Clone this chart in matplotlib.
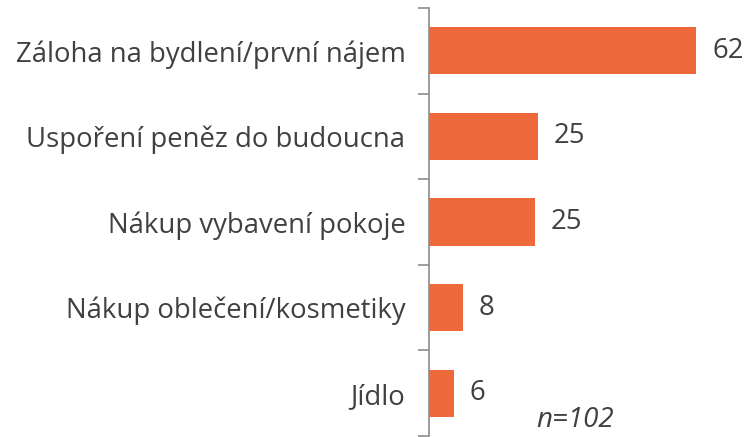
import matplotlib.pyplot as plt
from matplotlib.ticker import FixedLocator

kategorie = ['Záloha na bydlení/první nájem', 'Uspoření peněz do budoucna',
             'Nákup vybavení pokoje', 'Nákup oblečení/kosmetiky', 'Jídlo']
hodnoty = [62, 25.3, 24.6, 7.9, 5.8]
popisky = ['62', '25', '25', '8', '6']

plt.rcParams['font.family'] = ['Open Sans', 'DejaVu Sans']

fig = plt.figure(figsize=(7.46, 4.37), dpi=100)
ax = fig.add_axes([429 / 746, 1 - 436 / 437, 302 / 746, 428 / 437])

pozice = range(len(kategorie))
ax.barh(pozice, hodnoty, height=0.55, color='#EE6A3A')
for y, v, t in zip(pozice, hodnoty, popisky):
    ax.text(v + 3.6, y, t, va='center', ha='left', fontsize=19.8, color='#404040')

ax.set_xlim(0, 70)
ax.set_ylim(4.5, -0.5)
ax.set_yticks(list(pozice))
ax.set_yticklabels(kategorie, fontsize=19.8, color='#404040')
ax.tick_params(axis='y', which='major', length=0, pad=17)
ax.yaxis.set_minor_locator(FixedLocator([-0.5, 0.5, 1.5, 2.5, 3.5, 4.5]))
ax.tick_params(axis='y', which='minor', length=8, width=1.2, color='#8c8c8c')
ax.set_xticks([])
for s in ['top', 'right', 'bottom']:
    ax.spines[s].set_visible(False)
ax.spines['left'].set_color('#8c8c8c')
ax.spines['left'].set_linewidth(1.2)

fig.text(536 / 746, 1 - 434 / 437, 'n=102', style='italic', fontsize=20,
         color='#404040', va='bottom', ha='left')

fig.savefig('out.png', dpi=100)
